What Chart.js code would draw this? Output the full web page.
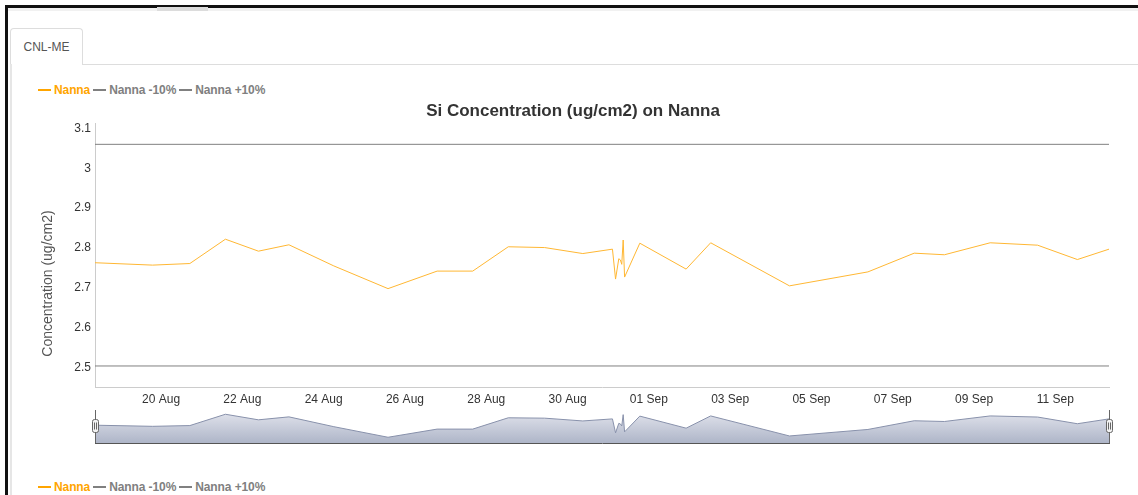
<!DOCTYPE html>
<html>
<head>
<meta charset="utf-8">
<title>Si Concentration on Nanna</title>
<script src="https://cdn.jsdelivr.net/npm/chart.js@4/dist/chart.umd.min.js"></script>
<style>
  html, body { margin: 0; padding: 0; background: #fff; }
  body { width: 1138px; height: 495px; overflow: hidden; position: relative; font-family: "Liberation Sans", Arial, sans-serif; }
  .frame { position: absolute; left: 5px; top: 5px; width: 1200px; height: 600px; border-left: 3px solid #111; border-top: 3px solid #111; }
  .strip { position: absolute; left: 8px; top: 8px; right: 0; height: 3px; background: #f1f1f1; }
  .scroll { position: absolute; left: 157px; top: 7px; width: 51px; height: 4px; background: #dcdcdc; }
  .tab { position: absolute; left: 10px; top: 28px; width: 71px; height: 36px; border: 1px solid #ddd; border-bottom: none;
         border-radius: 4px 4px 0 0; background: #fff; font-size: 12px; color: #555; line-height: 36px; text-align: center; }
  .tabline { position: absolute; left: 83px; top: 64px; right: 0; height: 1px; background: #ddd; }
  .panel { position: absolute; left: 10px; top: 64px; width: 2px; bottom: 0; background: #e6e6e6; }
  .legend { position: absolute; left: 38px; font-size: 12px; font-weight: bold; line-height: 14px; white-space: nowrap; letter-spacing: -0.1px; }
  .legend span { margin-right: 3px; }
  .legend i { display: inline-block; width: 13px; height: 2px; vertical-align: middle; margin-right: 3px; margin-top: -2px; }
  canvas { position: absolute; left: 0; }
</style>
</head>
<body>
<div class="frame"></div>
<div class="strip"></div>
<div class="scroll"></div>
<div class="tab">CNL-ME</div>
<div class="tabline"></div>
<div class="panel"></div>
<div class="legend" id="legendTop" style="top:83px"></div>
<canvas id="main" width="1138" height="310" style="top:98px"></canvas>
<canvas id="nav" width="1138" height="45" style="top:405px"></canvas>
<div class="legend" id="legendBottom" style="top:480px"></div>

<script>
// Sample times (month-day hour:minute) and Si readings for Nanna
const times = [
  '08-18 09:00', '08-19 19:00', '08-20 17:00', '08-21 14:00', '08-22 09:30',
  '08-23 03:30', '08-24 06:00', '08-25 14:00', '08-26 19:00', '08-27 16:00',
  '08-28 13:00', '08-29 10:30', '08-30 09:00', '08-31 02:30', '08-31 04:20',
  '08-31 06:15', '08-31 07:10', '08-31 08:00', '08-31 08:50', '08-31 09:40',
  '08-31 18:40', '09-01 22:00', '09-02 12:30', '09-04 11:00', '09-06 09:20',
  '09-07 12:40', '09-08 06:30', '09-09 09:30', '09-10 13:30', '09-11 13:00',
  '09-12 07:40'
];
const nanna = [
  2.763, 2.757, 2.761, 2.822, 2.792,
  2.808, 2.755, 2.698, 2.742, 2.742,
  2.803, 2.801, 2.786, 2.797, 2.722,
  2.773, 2.770, 2.759, 2.820, 2.727,
  2.812, 2.747, 2.813, 2.705, 2.740,
  2.787, 2.783, 2.813, 2.807, 2.771,
  2.797
];
// -10% and +10% reference levels
const bandValues = [2.504, 3.060];

const seriesNames = ['Nanna', 'Nanna -10%', 'Nanna +10%'];
const seriesColors = ['#ffa500', '#808080', '#808080'];
const monthNames = ['Jan', 'Feb', 'Mar', 'Apr', 'May', 'Jun', 'Jul', 'Aug', 'Sep', 'Oct', 'Nov', 'Dec'];

const FONT = '"Liberation Sans", Arial, sans-serif';
const BASE = Date.UTC(2019, 7, 20); // x = days from 20 Aug
const DAY = 86400000;

function toDay(s) {
  const [md, hm] = s.split(' ');
  const [mo, d] = md.split('-').map(Number);
  const [h, mi] = hm.split(':').map(Number);
  return (Date.UTC(2019, mo - 1, d, h, mi) - BASE) / DAY;
}

function dayLabel(v) {
  const dt = new Date(BASE + Math.round(v * 24) / 24 * DAY);
  return String(dt.getUTCDate()).padStart(2, '0') + ' ' + monthNames[dt.getUTCMonth()];
}

const xs = times.map(toDay);
const xMin = xs[0];
const xMax = xs[xs.length - 1];
const nannaPts = xs.map((x, i) => ({ x, y: nanna[i] }));

// html legends (top and bottom of the panel)
function fillLegend(el) {
  el.innerHTML = seriesNames.map((n, i) =>
    '<span style="color:' + seriesColors[i] + '"><i style="background:' + seriesColors[i] + '"></i>' + n + '</span>'
  ).join('');
}
fillLegend(document.getElementById('legendTop'));
fillLegend(document.getElementById('legendBottom'));

const yTitle = {
  id: 'yTitle',
  afterDraw(chart) {
    const c = chart.ctx;
    c.save();
    c.translate(48, 185.5);
    c.rotate(-Math.PI / 2);
    c.font = '14px ' + FONT;
    c.fillStyle = '#555';
    c.textAlign = 'center';
    c.textBaseline = 'middle';
    c.fillText('Concentration (ug/cm2)', 0, 0);
    c.restore();
  }
};

const tickFont = { family: FONT, size: 12 };

new Chart(document.getElementById('main'), {
  type: 'line',
  data: {
    datasets: [
      { label: seriesNames[0], data: nannaPts, borderColor: '#ffb733', borderWidth: 1, pointRadius: 0, tension: 0 },
      { label: seriesNames[1], data: [{ x: xMin, y: bandValues[0] }, { x: xMax, y: bandValues[0] }],
        borderColor: seriesColors[1], borderWidth: 1, pointRadius: 0 },
      { label: seriesNames[2], data: [{ x: xMin, y: bandValues[1] }, { x: xMax, y: bandValues[1] }],
        borderColor: seriesColors[2], borderWidth: 1, pointRadius: 0 }
    ]
  },
  options: {
    responsive: false,
    animation: false,
    layout: { padding: { left: 37, right: 29, top: 0, bottom: 0 } },
    plugins: {
      legend: { display: false },
      tooltip: { enabled: false },
      title: {
        display: true,
        text: 'Si Concentration (ug/cm2) on Nanna',
        color: '#333',
        font: { family: FONT, size: 17, weight: 'bold' },
        padding: { top: 3, bottom: 2 }
      }
    },
    scales: {
      x: {
        type: 'linear',
        min: xMin,
        max: xMax,
        grid: { display: false, drawTicks: false },
        border: { display: true, color: '#ccc' },
        ticks: {
          stepSize: 2, includeBounds: false, autoSkip: false, maxRotation: 0,
          padding: 5, color: '#333', font: tickFont,
          callback: v => dayLabel(v)
        },
        afterFit: s => { s.height = 20.5; }
      },
      y: {
        min: 2.45,
        max: 3.1125,
        grid: { display: false, drawTicks: false },
        border: { display: true, color: '#ccc' },
        ticks: {
          stepSize: 0.1, includeBounds: false, padding: 4, color: '#333', font: tickFont,
          callback: v => String(Math.round(v * 10) / 10)
        },
        afterFit: s => { s.width = 58; }
      }
    }
  },
  plugins: [yTitle]
});

// navigator handles at both ends of the range
const handles = {
  id: 'handles',
  afterDraw(chart) {
    const { ctx, chartArea: { left, right, top, bottom } } = chart;
    ctx.save();
    ctx.strokeStyle = '#666';
    ctx.lineWidth = 1;
    [left, right].forEach(px => {
      const x = Math.round(px) + 0.5;
      ctx.beginPath();
      ctx.moveTo(x, top);
      ctx.lineTo(x, bottom);
      ctx.stroke();
      const hy = top + 9.5;
      ctx.beginPath();
      ctx.roundRect(x - 3, hy, 6, 13, 2);
      ctx.fillStyle = '#f2f2f2';
      ctx.fill();
      ctx.stroke();
      ctx.beginPath();
      ctx.moveTo(x - 1, hy + 3); ctx.lineTo(x - 1, hy + 10);
      ctx.moveTo(x + 1, hy + 3); ctx.lineTo(x + 1, hy + 10);
      ctx.stroke();
    });
    ctx.restore();
  }
};

new Chart(document.getElementById('nav'), {
  type: 'line',
  data: {
    datasets: [{
      data: nannaPts,
      borderColor: '#8891ab',
      borderWidth: 1,
      pointRadius: 0,
      tension: 0,
      fill: 'start',
      backgroundColor: ctx => {
        const area = ctx.chart.chartArea;
        if (!area) return 'rgba(200,205,220,1)';
        const g = ctx.chart.ctx.createLinearGradient(0, area.top, 0, area.bottom);
        g.addColorStop(0, '#e4e6ee');
        g.addColorStop(1, '#aeb5c8');
        return g;
      }
    }]
  },
  options: {
    responsive: false,
    animation: false,
    layout: { padding: { left: 95, right: 29, top: 5, bottom: 7 } },
    plugins: { legend: { display: false }, tooltip: { enabled: false } },
    scales: {
      x: {
        type: 'linear', min: xMin, max: xMax,
        ticks: { display: false },
        grid: { display: false, drawTicks: false },
        border: { display: true, color: '#555' },
        afterFit: s => { s.height = 0; }
      },
      y: { min: 2.667, max: 2.845, display: false }
    }
  },
  plugins: [handles]
});
</script>
</body>
</html>
